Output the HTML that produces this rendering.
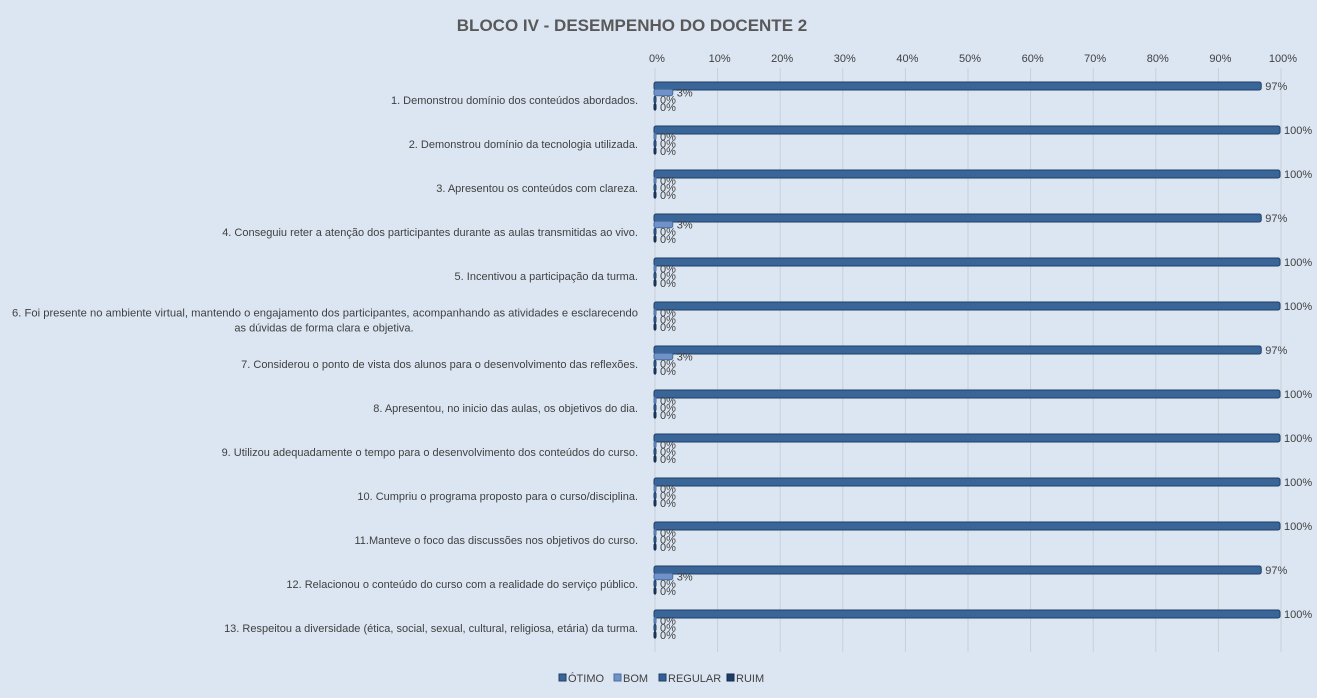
<!DOCTYPE html>
<html><head><meta charset="utf-8"><style>
html,body{margin:0;padding:0;background:#dce6f2;}
svg{display:block;font-family:"Liberation Sans Narrow","Liberation Sans",sans-serif;}
</style></head><body>
<svg id="chart" width="1317" height="698">
<rect width="1317" height="698" fill="#dce6f2"/>
<text x="632" y="31" text-anchor="middle" font-family="Liberation Sans, sans-serif" font-weight="bold" font-size="17" fill="#595959">BLOCO IV - DESEMPENHO  DO DOCENTE 2</text>
<g id="grid"></g><g id="bars"></g><g id="labels"></g>
<g id="legend"></g>
</svg>
<script>
const categories = [
"1. Demonstrou domínio dos conteúdos abordados.",
"2. Demonstrou domínio da tecnologia utilizada.",
"3. Apresentou os conteúdos com clareza.",
"4. Conseguiu reter a atenção dos participantes durante as aulas transmitidas ao vivo.",
"5. Incentivou a participação da turma.",
"6. Foi presente no ambiente virtual, mantendo o engajamento dos participantes, acompanhando as atividades e esclarecendo|as dúvidas de forma clara e objetiva.",
"7. Considerou o ponto de vista dos alunos para o desenvolvimento das reflexões.",
"8. Apresentou, no inicio das aulas, os objetivos do dia.",
"9. Utilizou adequadamente o tempo para o desenvolvimento dos conteúdos do curso.",
"10. Cumpriu o programa proposto para o curso/disciplina.",
"11.Manteve o foco das discussões nos objetivos do curso.",
"12. Relacionou o conteúdo do curso com a realidade do serviço público.",
"13. Respeitou a diversidade (ética, social, sexual, cultural, religiosa, etária) da turma."
];
const seriesNames = ["ÓTIMO","BOM","REGULAR","RUIM"];
const otimo = [97,100,100,97,100,100,97,100,100,100,100,97,100];
const bom = [3,0,0,3,0,0,3,0,0,0,0,3,0];
const regular = [0,0,0,0,0,0,0,0,0,0,0,0,0];
const ruim = [0,0,0,0,0,0,0,0,0,0,0,0,0];
const ticks = [0,10,20,30,40,50,60,70,80,90,100];

const NS="http://www.w3.org/2000/svg";
const x0=655, x1=1281, plotTop=78, band=44;
const xs=v=>x0+(x1-x0)*v/100;
const colors=["#3a6599","#6f93c8","#33609a","#1f3d66"];
const strokes=["#223f63","#4a6c9e","#223f63","#142a48"];
function mk(tag,attrs,parent){const e=document.createElementNS(NS,tag);for(const k in attrs)e.setAttribute(k,attrs[k]);parent.appendChild(e);return e;}
const grid=document.getElementById('grid'),bars=document.getElementById('bars'),labels=document.getElementById('labels'),legend=document.getElementById('legend');
ticks.forEach(t=>{
  const l=mk('line',{x1:xs(t),x2:xs(t),y1:68,y2:652,stroke:"#c9cfd8","stroke-width":1},grid);
  
  
  const tx=mk('text',{x:xs(t)+2,y:62,"text-anchor":"middle","font-size":11,fill:"#404040"},grid);
  tx.textContent=t+'%';
  
  
});
const series=[otimo,bom,regular,ruim];
categories.forEach((c,i)=>{
  const g0=plotTop+i*band;
  const lines=c.split('|');
  const cy=g0+26;
  lines.forEach((ln,k)=>{
    const attrs={x:638,y:cy+(k-(lines.length-1)/2)*15,"text-anchor":"end","font-size":11,fill:"#404040"};
    if(lines.length>1&&k==0){attrs.textLength=626;attrs.lengthAdjust="spacingAndGlyphs";}
    if(lines.length>1&&k==1){attrs.x=324;attrs["text-anchor"]="middle";}
    const t=mk('text',attrs,labels);
    t.textContent=ln;
    
    
  });
  series.forEach((s,j)=>{
    const y=g0+4+j*7.2, h=j==0?8:6.5;
    const w=Math.max(xs(s[i])-x0,2);
    const r=mk('rect',{x:x0-1,y:y,width:w,height:h,rx:2,fill:colors[j],stroke:strokes[j],"stroke-width":1},bars);
    
    
    const t=mk('text',{x:x0+w+3,y:y+h/2+4,"font-size":11,fill:"#404040"},bars);
    t.textContent=s[i]+'%';
    
    
  });
});
let lx=559;
seriesNames.forEach((n,j)=>{
  const r=mk('rect',{x:lx,y:674,width:7,height:7,fill:colors[j],stroke:strokes[j]},legend);
  
  
  const t=mk('text',{x:lx+9,y:682,"font-size":11,fill:"#404040"},legend);
  t.textContent=n;
  
  
  lx+=[55,45,68,0][j];
});
</script>
</body></html>
